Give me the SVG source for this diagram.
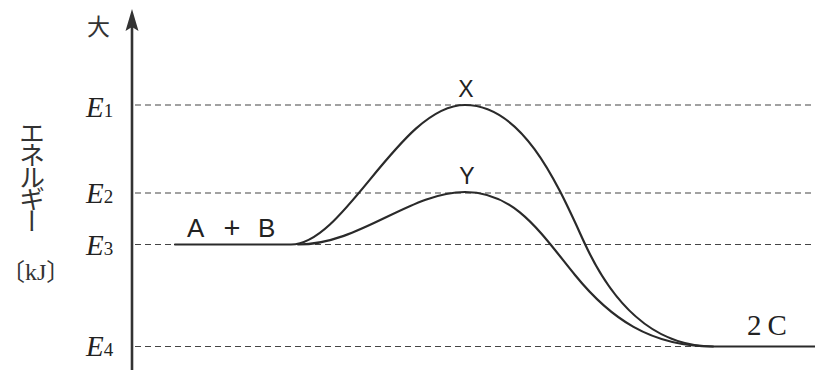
<svg xmlns="http://www.w3.org/2000/svg" width="815" height="370" viewBox="0 0 815 370">
<style>
.dash{stroke:#444;stroke-width:1.2;stroke-dasharray:6 4;fill:none}
.curve{stroke:#2a2a2a;stroke-width:2.2;fill:none;stroke-linecap:round}
.el{font-family:"Liberation Serif",serif;font-style:italic;font-size:29px;fill:#222}
.sub{font-style:normal;font-size:19px}
.jp{font-family:"Noto Sans CJK JP",sans-serif;font-size:22px;fill:#333}
.lab{font-family:"Liberation Sans",sans-serif;font-size:26px;fill:#222}
.pk{font-family:"Liberation Sans",sans-serif;font-size:23px;fill:#222;text-anchor:middle}
</style>
<rect width="815" height="370" fill="#fff"/>
<g id="axis">
<line x1="132" y1="370" x2="132" y2="24" stroke="#333" stroke-width="2.6"/>
<polygon points="132,9 138.5,31 132,27 125.5,31" fill="#333"/>
<text class="jp" x="87" y="35" style="font-size:23px">大</text>
<text class="jp" x="32" y="120" style="writing-mode:vertical-rl;font-size:26px;letter-spacing:-4px">エネルギー</text>
<text x="1" y="280" style="font-family:'Liberation Serif','Noto Sans CJK JP',serif;font-size:24px;fill:#333">〔kJ〕</text>
</g>
<g id="levels">
<line class="dash" x1="135" y1="105" x2="815" y2="105"/>
<line class="dash" x1="135" y1="193" x2="815" y2="193"/>
<line class="dash" x1="135" y1="244.5" x2="815" y2="244.5"/>
<line class="dash" x1="135" y1="346.5" x2="815" y2="346.5"/>
<text class="el" x="86" y="117">E<tspan class="sub">1</tspan></text>
<text class="el" x="86" y="203">E<tspan class="sub">2</tspan></text>
<text class="el" x="86" y="255">E<tspan class="sub">3</tspan></text>
<text class="el" x="86" y="356">E<tspan class="sub">4</tspan></text>
</g>
<g id="connectors">
<path id="pathX" class="curve" d="M175,244.5 L291,244.5 C345,244.5 400,105 465,105 C525,105 560,190 585,244 C610,298 650,346.5 713,346.5 L815,346.5"/>
<path id="pathY" class="curve" d="M298,244.5 C360,244.5 410,192 465,192 C515,192 540,232 575,275 C610,318 650,346.5 713,346.5"/>
</g>
<g id="node-AB"><text class="lab" x="187" y="237">A</text><text class="lab" x="232" y="238" style="text-anchor:middle;font-size:29px">+</text><text class="lab" x="258" y="237">B</text></g>
<g id="node-X"><text class="pk" x="466" y="97">X</text></g>
<g id="node-Y"><text class="pk" x="467" y="184">Y</text></g>
<g id="node-2C"><text x="747" y="335" style="font-family:'Liberation Serif',serif;font-size:29px;fill:#222">2<tspan dx="6">C</tspan></text></g>
</svg>
